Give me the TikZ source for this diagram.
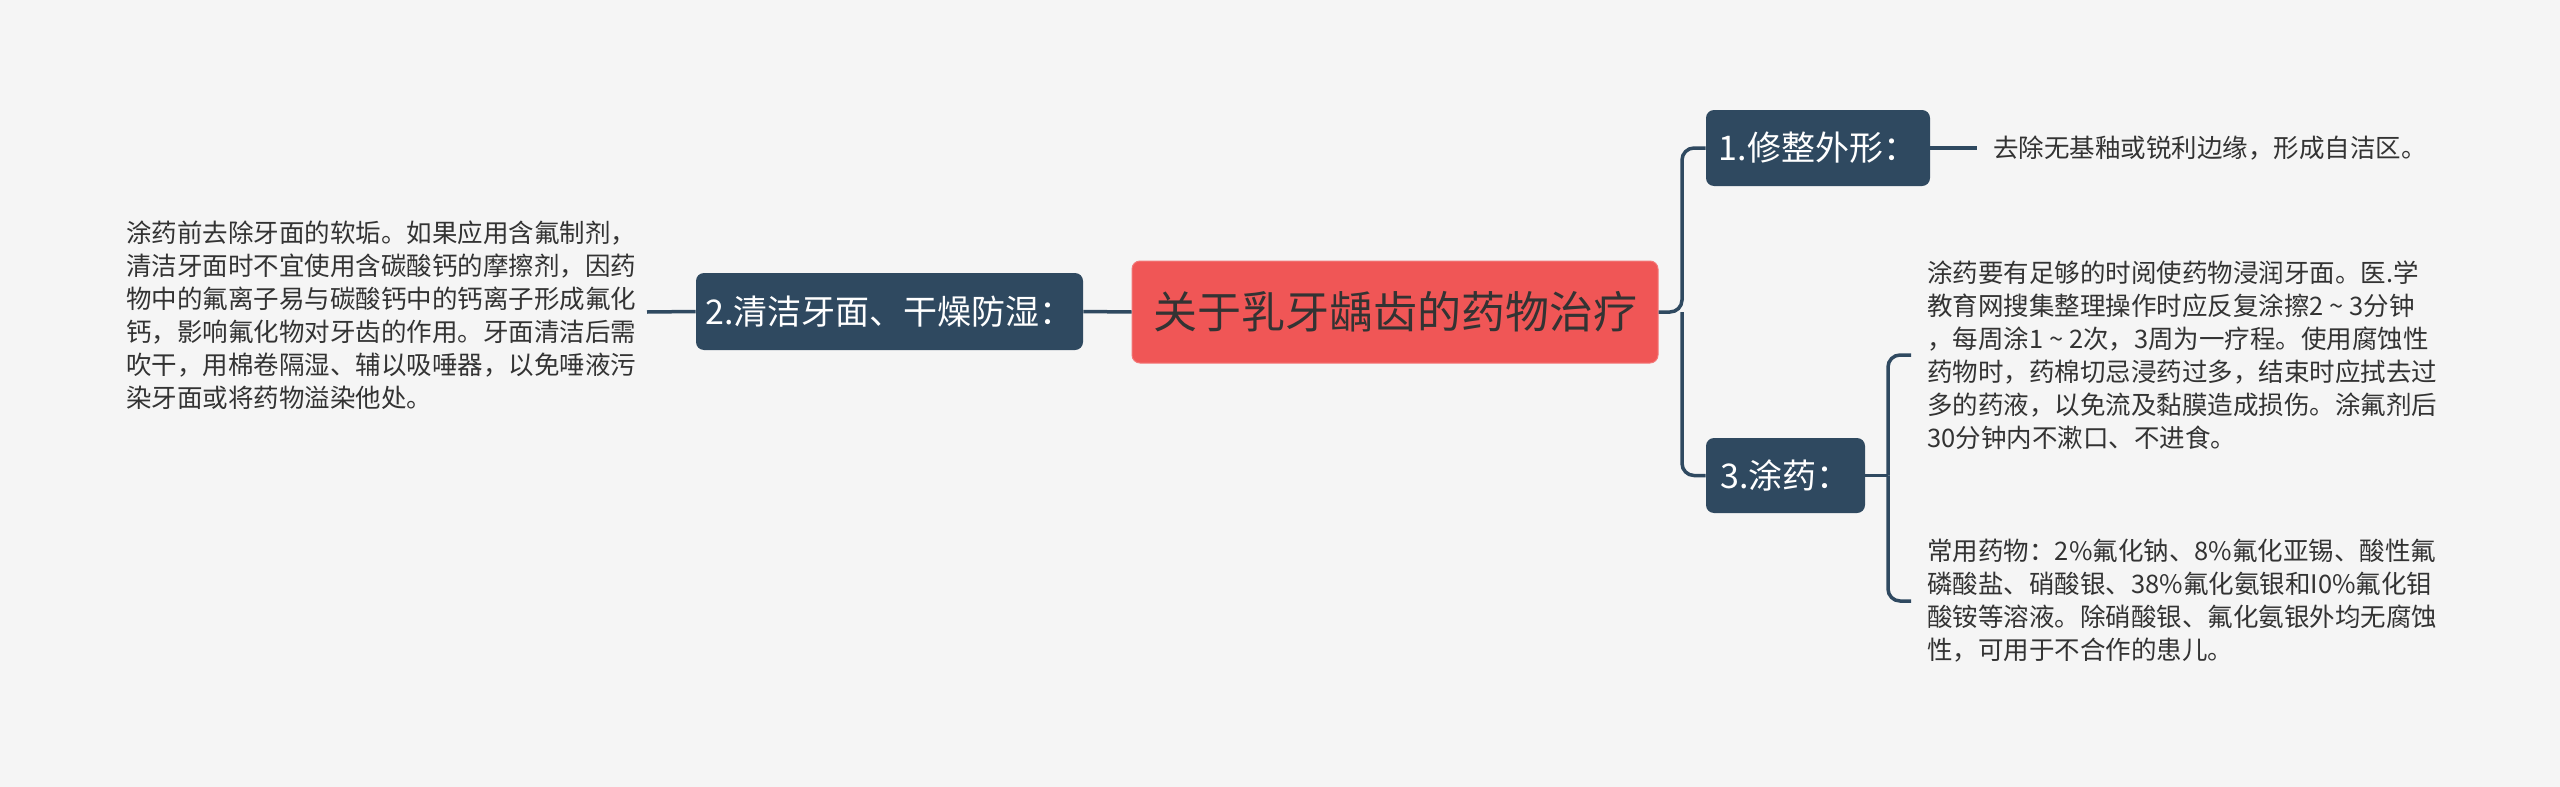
\documentclass[tikz,border=0pt]{standalone}
\usepackage{fontspec}
\setmainfont{Noto Sans CJK SC}
\newfontfamily\cjk{Noto Sans CJK SC}
\definecolor{bgc}{HTML}{F5F5F5}
\definecolor{slate}{HTML}{2F4960}
\definecolor{rootred}{HTML}{F05656}
\definecolor{txt}{HTML}{333333}
\newcommand{\wtil}{\makebox[1em]{\textasciitilde}}
\tikzset{
  conn/.style={draw=slate, line width=1.75pt},
  topic/.style={fill=slate, rounded corners=4pt, inner sep=0pt, text=white, font=\cjk\fontsize{17}{20}\selectfont},
  rootbox/.style={fill=rootred, draw=rootred!80!white, line width=0.5pt, rounded corners=4pt, inner sep=0pt, text=txt, font=\cjk\fontsize{22}{26}\selectfont, minimum width=263pt, minimum height=51pt},
  leaf/.style={anchor=west, inner sep=0pt, align=left, text=txt, font=\cjk\fontsize{12.75}{16.5}\selectfont},
}
\begin{document}
\begin{tikzpicture}[x=0.5pt,y=-0.5pt]
\fill[bgc] (0,0) rectangle (2560,787);
\useasboundingbox (0,0) rectangle (2560,787);

\node[rootbox] (root) at (1395,312) {关于乳牙龋齿的药物治疗};
\node[topic, minimum width=193.5pt, minimum height=38.5pt] (n2) at (889.5,311.5) {2.清洁牙面、干燥防湿：};
\node[topic, minimum width=112pt, minimum height=38pt] (n1) at (1818,148) {1.修整外形：};
\node[topic, minimum width=79.5pt, minimum height=37.5pt] (n3) at (1785.5,475.5) {3.涂药：};

\node[leaf] (t2) at (126,315) {涂药前去除牙面的软垢。如果应用含氟制剂，\\清洁牙面时不宜使用含碳酸钙的摩擦剂，因药\\物中的氟离子易与碳酸钙中的钙离子形成氟化\\钙，影响氟化物对牙齿的作用。牙面清洁后需\\吹干，用棉卷隔湿、辅以吸唾器，以免唾液污\\染牙面或将药物溢染他处。};
\node[leaf] (t1) at (1993,148) {去除无基釉或锐利边缘，形成自洁区。};
\node[leaf] (t3a) at (1927,355) {涂药要有足够的时阅使药物浸润牙面。医.学\\教育网搜集整理操作时应反复涂擦2\wtil 3分钟\\，每周涂1\wtil 2次，3周为一疗程。使用腐蚀性\\药物时，药棉切忌浸药过多，结束时应拭去过\\多的药液，以免流及黏膜造成损伤。涂氟剂后\\30分钟内不漱口、不进食。};
\node[leaf] (t3b) at (1927,601) {常用药物：2\%氟化钠、8\%氟化亚锡、酸性氟\\磷酸盐、硝酸银、38\%氟化氨银和I0\%氟化钼\\酸铵等溶液。除硝酸银、氟化氨银外均无腐蚀\\性，可用于不合作的患儿。};

\coordinate (l2) at (647,312);
\coordinate (bj) at (1682,312);
\coordinate (l1) at (1977,148);
\coordinate (b3) at (1888,475.5);
\coordinate (e3a) at (1911,355);
\coordinate (e3b) at (1911,601);

\draw[conn] (root.west) -- (n2.east);
\draw[conn] (n2.west) -- (l2);
\draw[conn, rounded corners=6pt] (root.east) -- (bj) |- (n1.west);
\draw[conn, rounded corners=6pt] (bj) |- (n3.west);
\draw[conn] (n1.east) -- (l1);
\draw[conn] (n3.east) -- (b3);
\draw[conn, rounded corners=6pt] (b3) |- (e3a);
\draw[conn, rounded corners=6pt] (b3) |- (e3b);
\end{tikzpicture}
\end{document}
